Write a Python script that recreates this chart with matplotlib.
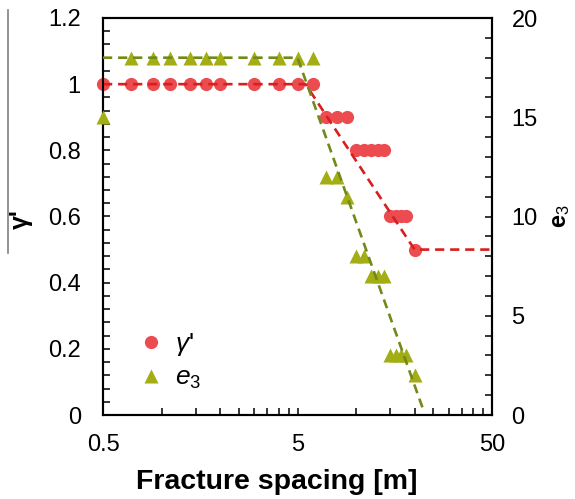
import matplotlib
matplotlib.use("Agg")
import matplotlib.pyplot as plt
from matplotlib.ticker import FixedLocator, MultipleLocator, FuncFormatter
from matplotlib.lines import Line2D

plt.rcParams['font.family'] = ['Liberation Sans', 'DejaVu Sans']
plt.rcParams['mathtext.fontset'] = 'custom'
plt.rcParams['mathtext.it'] = 'Liberation Sans:italic'
plt.rcParams['mathtext.rm'] = 'Liberation Sans'

# measured points
gamma_x = [0.5, 0.7, 0.9, 1.1, 1.4, 1.7, 2, 3, 4, 5, 6,
           7, 8, 9, 10, 11, 12, 13, 14, 15, 16, 17, 18, 20]
gamma_y = [1, 1, 1, 1, 1, 1, 1, 1, 1, 1, 1,
           0.9, 0.9, 0.9, 0.8, 0.8, 0.8, 0.8, 0.8, 0.6, 0.6, 0.6, 0.6, 0.5]
e3_x = [0.5, 0.7, 0.9, 1.1, 1.4, 1.7, 2, 3, 4, 5, 6,
        7, 8, 9, 10, 11, 12, 13, 14, 15, 16, 17, 18, 20]
e3_y = [15, 18, 18, 18, 18, 18, 18, 18, 18, 18, 18,
        12, 12, 11, 8, 8, 7, 7, 7, 3, 3, 3, 3, 2]

# piecewise trend lines
gamma_fit_x = [0.5, 5.5, 20, 50]
gamma_fit_y = [1, 1, 0.5, 0.5]
e3_fit_x = [0.5, 5, 22]
e3_fit_y = [18, 18, 0.35]

red_pt = '#EC4B50'
red_ln = '#D81E1E'
grn_pt = '#A2AE14'
grn_ln = '#6F8A18'

fig = plt.figure(figsize=(5.75, 4.99), dpi=100)
ax = fig.add_axes([103/575, 1 - 415/499, 389/575, 397/499])
ax2 = ax.twinx()

ax.plot(gamma_x, gamma_y, 'o', color=red_pt, ms=9.5, mec='none', clip_on=False, zorder=3)
ax.plot(gamma_fit_x, gamma_fit_y, '--', color=red_ln, lw=1.9, dashes=(3.5, 2.2), zorder=4)
ax2.plot(e3_x, e3_y, '^', color=grn_pt, ms=10, mec='none', clip_on=False, zorder=3)
ax2.plot(e3_fit_x, e3_fit_y, '--', color=grn_ln, lw=1.9, dashes=(3.5, 2.2), zorder=4)

ax.set_xscale('log')
ax.set_xlim(0.5, 50)
ax.set_ylim(0, 1.2)
ax2.set_ylim(0, 20)

ax.xaxis.set_major_locator(FixedLocator([0.5, 5, 50]))
ax.xaxis.set_major_formatter(FuncFormatter(lambda v, p: '%g' % v))
ax.xaxis.set_minor_locator(FixedLocator([0.5 * k for k in range(2, 10)] + [5 * k for k in range(2, 10)]))
ax.xaxis.set_minor_formatter(FuncFormatter(lambda v, p: ''))
ax.yaxis.set_major_locator(MultipleLocator(0.2))
ax.yaxis.set_minor_locator(MultipleLocator(0.04))
ax.yaxis.set_major_formatter(FuncFormatter(lambda v, p: '%g' % round(v, 2)))
ax2.yaxis.set_major_locator(MultipleLocator(5))
ax2.yaxis.set_minor_locator(MultipleLocator(1))

for a in (ax, ax2):
    for s in a.spines.values():
        s.set_linewidth(1.5)
ax.tick_params(which='both', direction='in', length=5, width=1.1, top=False, right=False, labelsize=17)
ax.tick_params(axis='y', which='both', pad=16)
ax.tick_params(axis='x', which='both', pad=14)
ax2.tick_params(which='both', direction='in', length=5, width=1.1, labelsize=17, pad=14)

ax.set_xlabel('Fracture spacing [m]', fontsize=20.5, fontweight='bold')
ax.xaxis.set_label_coords(0.447, -0.135)
ax2.set_ylabel('e$_3$', fontsize=17, fontweight='bold', labelpad=8)
fig.text(21/575, 1 - 219/499, "γ'", rotation=90, fontsize=18, fontweight='bold',
         ha='center', va='center')
fig.add_artist(Line2D([8/575, 8/575], [1 - 10/499, 1 - 253/499], color='#808080', lw=1.2))

handles = [Line2D([], [], ls='none', marker='o', color=red_pt, ms=9.5, mec='none'),
           Line2D([], [], ls='none', marker='^', color=grn_pt, ms=10, mec='none')]
ax2.legend(handles, ["$\\gamma$'", '$e_3$'], loc='lower left', bbox_to_anchor=(0.035, 0.0),
           frameon=False, fontsize=19, handlelength=0.8, handletextpad=0.5, labelspacing=0.3)

fig.savefig('out.png', dpi=100)
